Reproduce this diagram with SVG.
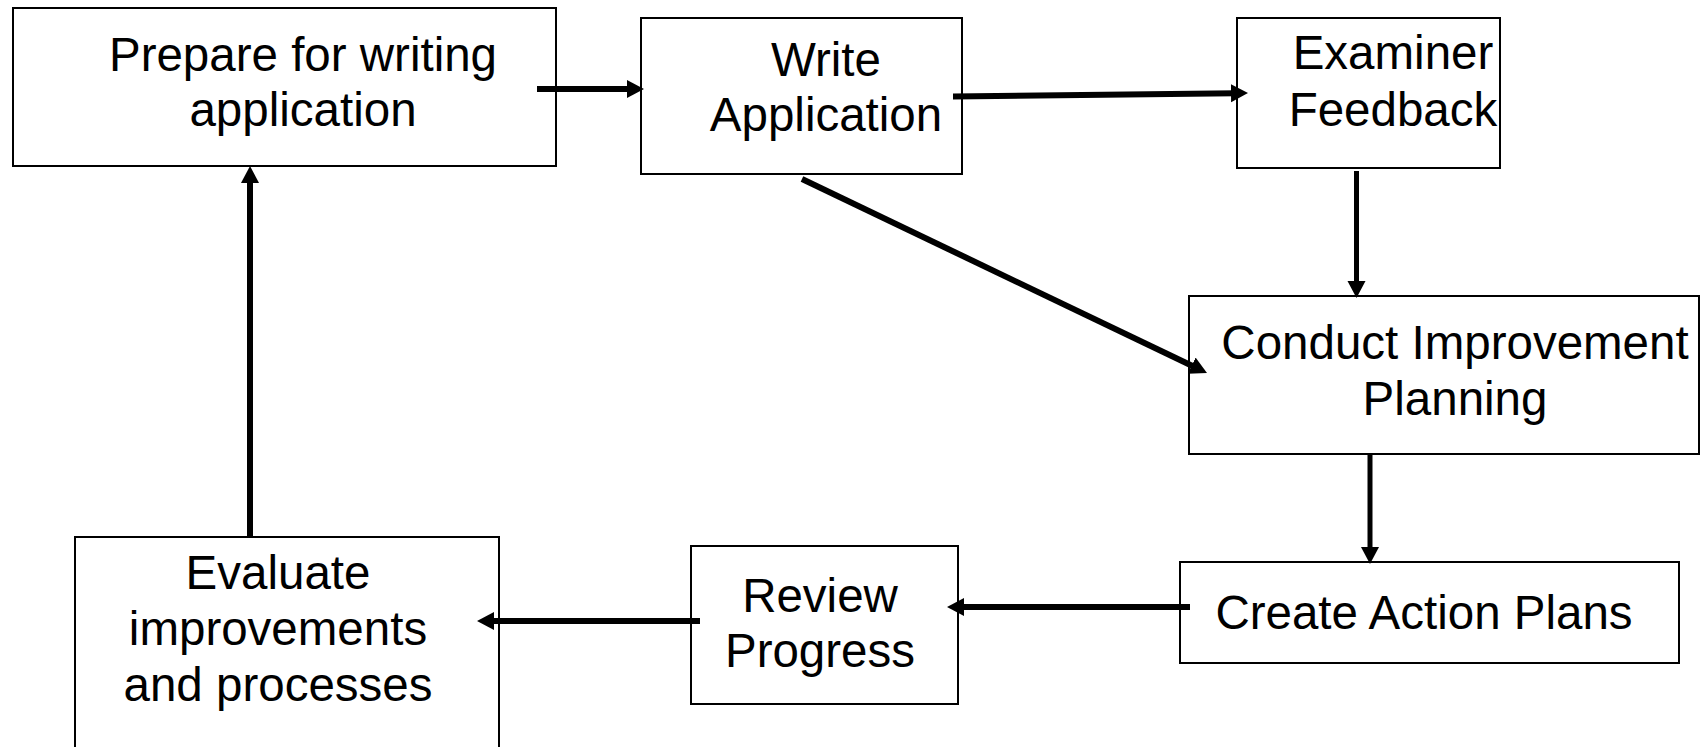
<svg xmlns="http://www.w3.org/2000/svg" width="1701" height="747" viewBox="0 0 1701 747">
  <style>
    .box { fill: #ffffff; stroke: #000000; stroke-width: 2; }
    .lbl { font-family: "Liberation Sans", Arial, sans-serif; font-size: 47.5px; fill: #000000; text-anchor: middle; }
    .link { stroke: #000000; fill: none; stroke-width: 6; marker-end: url(#head); }
    .thin { stroke-width: 5; }
  </style>
  <defs>
    <!-- tip sits 12px past the line end so the butt cap stays hidden inside the head -->
    <marker id="head" markerUnits="userSpaceOnUse" markerWidth="20" markerHeight="20" refX="5" refY="9" orient="auto">
      <path d="M0,0 L17,9 L0,18 z" fill="#000000"/>
    </marker>
  </defs>
  <rect width="1701" height="747" fill="#ffffff"/>

  <g id="node-prepare">
    <rect class="box" x="13" y="8" width="543" height="158"/>
    <text class="lbl" x="303" y="71">Prepare for writing</text>
    <text class="lbl" x="303" y="126">application</text>
  </g>

  <g id="node-write">
    <rect class="box" x="641" y="18" width="321" height="156"/>
    <text class="lbl" x="826" y="76">Write</text>
    <text class="lbl" x="826" y="131">Application</text>
  </g>

  <g id="node-examiner">
    <rect class="box" x="1237" y="18" width="263" height="150"/>
    <text class="lbl" x="1393" y="69">Examiner</text>
    <text class="lbl" x="1393" y="126">Feedback</text>
  </g>

  <g id="node-conduct">
    <rect class="box" x="1189" y="296" width="510" height="158"/>
    <text class="lbl" x="1455" y="359">Conduct Improvement</text>
    <text class="lbl" x="1455" y="415">Planning</text>
  </g>

  <g id="node-create">
    <rect class="box" x="1180" y="562" width="499" height="101"/>
    <text class="lbl" x="1424" y="629">Create Action Plans</text>
  </g>

  <g id="node-review">
    <rect class="box" x="691" y="546" width="267" height="158"/>
    <text class="lbl" x="820" y="612">Review</text>
    <text class="lbl" x="820" y="667">Progress</text>
  </g>

  <g id="node-evaluate">
    <rect class="box" x="75" y="537" width="424" height="220"/>
    <text class="lbl" x="278" y="589">Evaluate</text>
    <text class="lbl" x="278" y="645">improvements</text>
    <text class="lbl" x="278" y="701">and processes</text>
  </g>

  <g id="connectors">
    <line class="link" x1="537" y1="89" x2="632" y2="89"/>
    <line class="link" x1="953" y1="96.5" x2="1236" y2="93.2"/>
    <line class="link" x1="802" y1="179" x2="1196.2" y2="367.8"/>
    <line class="link thin" x1="1356.5" y1="171" x2="1356.5" y2="286"/>
    <line class="link thin" x1="1370" y1="455" x2="1370" y2="552"/>
    <line class="link" x1="1190" y1="607" x2="959" y2="607"/>
    <line class="link" x1="700" y1="621" x2="489" y2="621"/>
    <line class="link" x1="250" y1="537" x2="250" y2="178"/>
  </g>
</svg>
